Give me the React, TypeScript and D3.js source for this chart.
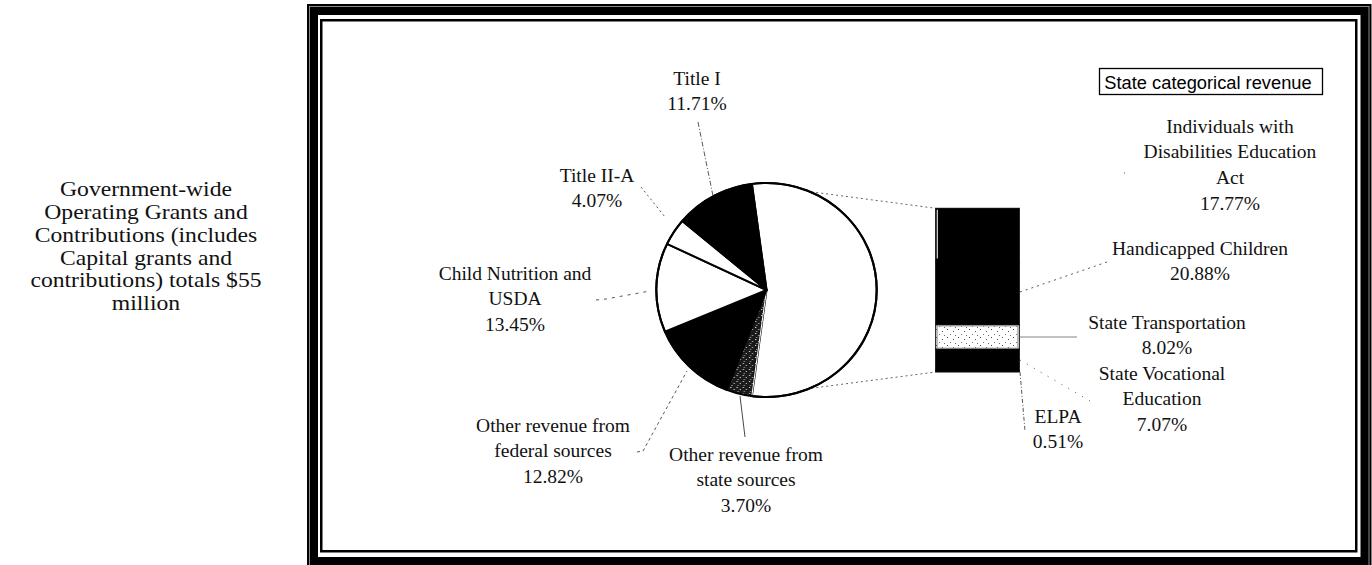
import React from "react";
import * as d3 from "d3";

// ---------- data ----------
const pieCategories = [
  "State categorical revenue",
  "Other revenue from state sources",
  "Other revenue from federal sources",
  "Child Nutrition and USDA",
  "Title II-A",
  "Title I",
];
const pieValues = [54.25, 3.7, 12.82, 13.45, 4.07, 11.71];

const barCategories = [
  "Individuals with Disabilities Education Act",
  "Handicapped Children",
  "State Transportation",
  "State Vocational Education",
  "ELPA",
];
const barValues = [17.77, 20.88, 8.02, 7.07, 0.51];

const sideNote = [
  "Government-wide",
  "Operating Grants and",
  "Contributions (includes",
  "Capital grants and",
  "contributions) totals $55",
  "million",
];

// ---------- layout / style ----------
const W = 1372;
const H = 565;
const serif = "'Liberation Serif', 'Times New Roman', serif";
const sans = "'Liberation Sans', Arial, sans-serif";

const pieFill: Record<string, string> = {
  "State categorical revenue": "#fff",
  "Other revenue from state sources": "url(#stippleDark)",
  "Other revenue from federal sources": "#000",
  "Child Nutrition and USDA": "#fff",
  "Title II-A": "#fff",
  "Title I": "#000",
};
const barFill: Record<string, string> = {
  "Individuals with Disabilities Education Act": "#000",
  "Handicapped Children": "#000",
  "State Transportation": "url(#stippleLight)",
  "State Vocational Education": "#000",
  ELPA: "#111",
};

type Lbl = { lines: string[]; x: number; y: number; leader: [number, number][]; dash?: string; color?: string };
const labelLayout: Record<string, Lbl> = {
  "Title I": { lines: ["Title I"], x: 697, y: 78, leader: [[698, 122], [713, 196]], dash: "5,2,1,2" },
  "Title II-A": { lines: ["Title II-A"], x: 597, y: 175, leader: [[641, 187], [665, 217]], dash: "2,3" },
  "Child Nutrition and USDA": { lines: ["Child Nutrition and", "USDA"], x: 515, y: 273, leader: [[596, 300], [606, 299], [650, 291]], dash: "3,5" },
  "Other revenue from federal sources": { lines: ["Other revenue from", "federal sources"], x: 553, y: 425, leader: [[637, 452], [643, 451], [687, 371]], dash: "3,3" },
  "Other revenue from state sources": { lines: ["Other revenue from", "state sources"], x: 746, y: 454, leader: [[740, 396], [745, 437]], color: "#333" },
  "Individuals with Disabilities Education Act": { lines: ["Individuals with", "Disabilities Education", "Act"], x: 1230, y: 126, leader: [[1124, 173], [1126, 173]], dash: "1,2" },
  "Handicapped Children": { lines: ["Handicapped Children"], x: 1200, y: 248, leader: [[1020, 292], [1107, 262]], dash: "2,4" },
  "State Transportation": { lines: ["State Transportation"], x: 1167, y: 322, leader: [[1020, 337], [1077, 337]], color: "#777" },
  "State Vocational Education": { lines: ["State Vocational", "Education"], x: 1162, y: 373, leader: [[1020, 360], [1090, 401]], dash: "1,7" },
  ELPA: { lines: ["ELPA"], x: 1058, y: 416, leader: [[1020, 372], [1025, 431]], dash: "4,2,1,2" },
};

const lineH = 25.7;

function fmt(v: number) {
  return v.toFixed(2) + "%";
}

export default function App() {
  // pie geometry
  const cx = 766.5;
  const cy = 290;
  const r = 107;
  const sx = 1.03;
  const bigAngle = (pieValues[0] / d3.sum(pieValues)) * 2 * Math.PI;
  const start = Math.PI / 2 - bigAngle / 2;
  const pieGen = d3
    .pie<number>()
    .sort(null)
    .value((d) => d)
    .startAngle(start)
    .endAngle(start + 2 * Math.PI);
  const arcs = pieGen(pieValues);
  const arcGen = d3.arc<d3.PieArcDatum<number>>().innerRadius(0).outerRadius(r);

  const pt = (a: number) => [cx + sx * r * Math.sin(a), cy - r * Math.cos(a)];
  const topPt = pt(arcs[0].startAngle);
  const botPt = pt(arcs[0].endAngle);

  // bar geometry
  const barX0 = 935.7;
  const barX1 = 1019.3;
  const barTotal = d3.sum(barValues);
  const y = d3.scaleLinear().domain([0, barTotal]).range([208.3, 372]);
  const cum = d3.cumsum(barValues);
  const segs = barValues.map((v, i) => ({ name: barCategories[i], v, y0: y(cum[i] - v), y1: y(cum[i]) }));

  const line = d3.line();

  const renderLabel = (name: string, value: number) => {
    const L = labelLayout[name];
    if (!L) return null;
    const all = [...L.lines, fmt(value)];
    return (
      <g key={name}>
        <path
          d={line(L.leader) || ""}
          fill="none"
          stroke={L.color || "#444"}
          strokeWidth={0.9}
          strokeDasharray={L.dash}
        />
        {all.map((t, i) => (
          <text
            key={i}
            x={L.x}
            y={L.y + i * lineH}
            textAnchor="middle"
            dominantBaseline="central"
            fontFamily={serif}
            fontSize={19.5}
            fill="#111"
          >
            {t}
          </text>
        ))}
      </g>
    );
  };

  const idea = segs[0];

  return (
    <div style={{ position: "absolute", left: 0, top: 0, width: W, height: H, background: "#fff" }}>
      <svg width={W} height={H} style={{ display: "block" }}>
        <defs>
          <pattern id="stippleDark" width="6" height="6" patternUnits="userSpaceOnUse">
            <rect width="6" height="6" fill="#1a1a1a" />
            <rect x="1" y="1" width="1" height="1" fill="#fff" />
            <rect x="4" y="3" width="1" height="1" fill="#ddd" />
            <rect x="2" y="5" width="1" height="1" fill="#bbb" />
          </pattern>
          <pattern id="stippleLight" width="11" height="8" patternUnits="userSpaceOnUse">
            <rect width="11" height="8" fill="#fff" />
            <rect x="1" y="1" width="1" height="1" fill="#444" />
            <rect x="7" y="3" width="1" height="1" fill="#555" />
            <rect x="4" y="6" width="1" height="1" fill="#777" />
            <rect x="9" y="7" width="1" height="1" fill="#666" />
          </pattern>
        </defs>

        {/* frame */}
        <rect x={312.5} y={9.5} width={1053.5} height={553} fill="none" stroke="#000" strokeWidth={11} />
        <rect x={309.5} y={6.5} width={1059.5} height={559} fill="none" stroke="#aaa" strokeWidth={0.8} />
        <rect x={321.25} y={20.25} width={1035} height={531} fill="none" stroke="#000" strokeWidth={2.5} />

        {/* side note */}
        <g transform="translate(146,0) scale(1.1,1)">
          {sideNote.map((t, i) => (
            <text
              key={i}
              x={0}
              y={189 + i * 22.8}
              textAnchor="middle"
              dominantBaseline="central"
              fontFamily={serif}
              fontSize={21.5}
              fill="#111"
            >
              {t}
            </text>
          ))}
        </g>

        {/* series lines */}
        <line x1={topPt[0]} y1={topPt[1]} x2={barX0} y2={y(0)} stroke="#555" strokeWidth={0.9} strokeDasharray="2,3" />
        <line x1={botPt[0]} y1={botPt[1]} x2={barX0} y2={y(barTotal)} stroke="#555" strokeWidth={0.9} strokeDasharray="2,3" />

        {/* pie */}
        <g transform={`translate(${cx},${cy}) scale(${sx},1)`}>
          {arcs.map((a, i) => (
            <path
              key={i}
              d={arcGen(a) || ""}
              fill={pieFill[pieCategories[i]]}
              stroke={i === 1 ? "#fff" : "#000"}
              strokeWidth={i === 1 ? 1 : 2}
              strokeLinejoin="round"
            />
          ))}
          <circle r={r} fill="none" stroke="#000" strokeWidth={2} />
        </g>

        {/* bar */}
        {segs.map((s) => (
          <rect
            key={s.name}
            x={barX0}
            y={s.y0}
            width={barX1 - barX0}
            height={Math.max(0.5, s.y1 - s.y0)}
            fill={barFill[s.name]}
            stroke="#000"
            strokeWidth={1}
          />
        ))}
        <rect x={barX0 + 1} y={idea.y0 + 1.5} width={1.2} height={idea.y1 - idea.y0 - 5} fill="#ddd" />
        {segs
          .filter((s) => s.name === "State Transportation")
          .map((s) => (
            <rect key="tr" x={barX0 + 1.5} y={s.y0 + 1} width={barX1 - barX0 - 3} height={s.y1 - s.y0 - 2} fill="none" stroke="#999" strokeWidth={1} />
          ))}

        {/* labels */}
        {pieCategories.slice(1).map((n, i) => renderLabel(n, pieValues[i + 1]))}
        {barCategories.map((n, i) => renderLabel(n, barValues[i]))}

        {/* legend box */}
        <rect x={1099.5} y={68.5} width={223} height={26} fill="#fff" stroke="#000" strokeWidth={1.3} />
        <text x={1208} y={82} textAnchor="middle" dominantBaseline="central" fontFamily={sans} fontSize={18.3} fill="#000">
          {pieCategories[0]}
        </text>
      </svg>
    </div>
  );
}
